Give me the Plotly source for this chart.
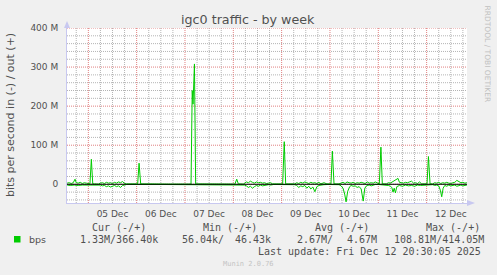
import pandas as pd
import plotly.graph_objects as go

# ---------------- data (hours since 2025-12-05 00:00, values in Mbit/s) ----------------
base_time = "2025-12-05 00:00"

out_hours = [-10.5, -9.5, -8.5, -7.5, -6.6, -6, -5, -4, -3, -2, -1, 0,
             0.8, 1.5, 2.2, 3, 5,
             6, 7, 8, 9, 10, 11, 12, 13, 14, 15, 16, 17, 18, 19,
             24.5, 25.2, 26, 30, 40, 51,
             51.6, 52.0, 52.7, 53.3, 60, 72.8, 73.7, 74.5, 77,
             77.5, 78.5, 79.5, 80.5, 81.5, 82.5, 83.5, 84.5, 85.5, 86.5, 87.5, 88.5, 89.5, 90.5, 91.5, 96.5,
             97.3, 98,
             102.5, 103.5, 104.5, 105.5, 106.5, 107.5, 108.5, 109.5, 110.5, 111.5, 112.5, 113.5, 114.5, 115.5,
             117, 118.5, 120.5, 121.2, 122,
             124.5, 125.5, 126.5, 127.5, 128.5, 129.5, 130.5, 131.5, 132.5, 133.5, 134.5, 135.5, 136.5, 137.5,
             138.5, 139.5, 140.5, 141.5, 142.5, 144.5, 145.3, 146,
             148, 149, 150, 151, 152, 153.8, 154.5, 155.5, 156.5, 157.5, 158.5, 159.5, 160.5, 161.5, 162.5,
             163.5, 164.5, 165.5, 168.2, 168.9, 169.7,
             171, 172, 173, 174, 175, 176, 177, 178, 179, 180, 181, 182, 183, 184, 185, 186, 187, 188]
out_values = [3, 4, 2, 4, 13, 4, 3, 5, 2, 4, 3, 1,
              1, 64, 1, 1, 0.5,
              3, 4, 2, 5, 3, 4, 2, 5, 3, 6, 4, 7, 2, 1,
              1, 54, 1, 0.5, 0.5, 0.5,
              240, 205, 308, 1, 0.5, 0.5, 13, 1, 0.5,
              3, 6, 4, 8, 5, 3, 6, 4, 5, 3, 4, 2, 3, 4, 1, 1,
              109, 1,
              1, 4, 2, 5, 3, 6, 4, 2, 5, 3, 4, 2, 5, 1,
              4, 1, 1, 85, 1,
              1, 3, 5, 2, 6, 4, 3, 5, 2, 4, 3, 5, 4, 2,
              6, 3, 4, 3, 6, 1, 95, 1,
              1, 4, 3, 6, 9, 15, 5, 4, 3, 5, 4, 6, 8, 3, 4,
              2, 6, 1, 1, 71, 1,
              1, 4, 3, 5, 2, 4, 3, 5, 3, 2, 4, 5, 10, 7, 4, 5, 3, 4]

in_hours = [-10.5, -9, -7, -5, -3, -1, 0, 3, 5,
            6, 7, 8, 9, 10, 11, 12, 13, 14, 15, 16, 17, 18, 19,
            30, 60, 77,
            77.5, 78.5, 79.5, 80.5, 81.5, 82.5, 83.5, 84.5, 85.5, 86.5, 87.5, 88.5, 89.5, 90.5, 92,
            102.5, 103.5, 104.5, 105.5, 106.5, 107.5, 108.5, 109.5, 110.5, 111.5, 112.5, 113.5, 114.5, 115.5,
            117, 119,
            124.5, 125.5, 126.5, 127.3, 128, 128.8, 129.8, 130.5, 131.5, 132.5, 133.5, 134.5, 135.5, 136.5,
            137.3, 138.3, 139.5, 140.5, 141.5, 142.5, 144,
            148, 149, 150, 150.7, 151.3, 151.9, 152.5, 153.2, 154.5, 156, 157.5, 159, 160.5, 162, 163.5, 165,
            171, 172, 173, 174, 174.8, 175.5, 176.2, 177, 178, 179, 180, 181, 182, 183, 184, 185, 186, 187, 188]
in_values = [-2, -3, -2, -3, -2, -2, -0.5, -0.3, -0.5,
             -2, -4, -3, -6, -4, -7, -5, -3, -6, -4, -8, -3, -2, -0.5,
             -0.3, -0.3, -0.5,
             -2, -4, -8, -5, -10, -6, -3, -5, -2, -4, -3, -2, -1, -2, -0.5,
             -1, -3, -8, -4, -6, -3, -10, -5, -12, -7, -19, -6, -3, -2,
             -1, -0.5,
             -1, -4, -10, -25, -45, -18, -6, -3, -5, -4, -8, -6, -12, -43,
             -10, -3, -2, -4, -2, -0.5, -0.5,
             -1, -3, -5, -8, -20, -10, -22, -6, -3, -5, -2, -4, -3, -5, -2, -3,
             -1, -3, -2, -4, -15, -32, -10, -3, -5, -2, -4, -3, -2, -5, -3, -2, -4, -3, -2]

y_tick_values = [0, 100, 200, 300, 400]
y_tick_labels = ["0", "100 M", "200 M", "300 M", "400 M"]

legend_header = ["Cur (-/+)", "Min (-/+)", "Avg (-/+)", "Max (-/+)"]
legend_row = ["1.33M/366.40k", "56.04k/", "46.43k", "2.67M/", "4.67M", "108.81M/414.05M"]
last_update = "Last update: Fri Dec 12 20:30:05 2025"

# ---------------- figure ----------------
W, H = 497, 275
L, R, T, B = 67, 30, 28, 72
PW, PH = W - L - R, H - T - B

def px(x):
    return (x - L) / PW

def py(y):
    return (H - B - y) / PH

t0 = pd.Timestamp(base_time)
out_t = [t0 + pd.Timedelta(hours=h) for h in out_hours]
in_t = [t0 + pd.Timedelta(hours=h) for h in in_hours]
x_start = t0 + pd.Timedelta(hours=-10.59)
x_end = t0 + pd.Timedelta(hours=188.05)
y_lo, y_hi = -47.9e6, 400e6

# grid positions derived from the axis ranges
x_major = [t0 + pd.Timedelta(hours=h) for h in range(0, 192, 24)]
x_minor = [t0 + pd.Timedelta(hours=h) for h in range(-6, 192, 6) if h % 24 != 0]
y_major = [v * 1e6 for v in y_tick_values]
y_minor = [v * 1e6 for v in range(-40, 400, 20) if v % 100 != 0]

MAJ = "#e08080"
MIN = "#b4b4b4"
AX = "#c8c8f0"
TXT = "#505050"
GREEN = "#00CC00"

def vlines(xs):
    xx, yy = [], []
    for x in xs:
        xx += [x, x, None]
        yy += [y_lo, y_hi, None]
    return xx, yy

def hlines(ys):
    xx, yy = [], []
    for y in ys:
        xx += [x_start, x_end, None]
        yy += [y, y, None]
    return xx, yy

fig = go.Figure()
for (xx, yy), col in [(vlines(x_minor), MIN), (hlines(y_minor), MIN),
                      (vlines(x_major), MAJ), (hlines(y_major), MAJ)]:
    fig.add_trace(go.Scatter(x=xx, y=yy, mode="lines", line=dict(color=col, width=1, dash="1px,1px"),
                             hoverinfo="skip", showlegend=False, connectgaps=False))

fig.add_trace(go.Scatter(x=in_t, y=[v * 1e6 for v in in_values], mode="lines",
                         line=dict(color=GREEN, width=1), hoverinfo="skip", showlegend=False))
fig.add_trace(go.Scatter(x=out_t, y=[v * 1e6 for v in out_values], mode="lines",
                         line=dict(color=GREEN, width=1), hoverinfo="skip", showlegend=False))

fig.update_layout(
    width=W, height=H,
    margin=dict(l=L, r=R, t=T, b=B, pad=0),
    paper_bgcolor="#F0F0F0", plot_bgcolor="white",
    showlegend=False,
    xaxis=dict(
        type="date", range=[x_start, x_end],
        tick0=t0, dtick=86400000, ticklabelmode="period", tickformat="%d %b",
        showgrid=False,
        ticks="", showline=True, linecolor=AX, zeroline=False, ticklabelstandoff=2,
        tickfont=dict(family="DejaVu Sans", size=9, color=TXT),
    ),
    yaxis=dict(
        range=[y_lo, y_hi],
        tickmode="array", tickvals=y_major, ticktext=y_tick_labels,
        showgrid=False,
        ticks="", showline=True, linecolor=AX, zeroline=False, ticklabelstandoff=6,
        tickfont=dict(family="DejaVu Sans", size=9, color=TXT),
    ),
)

# zero rule drawn above the data
fig.add_shape(type="line", xref="paper", yref="y", x0=0, x1=1, y0=0, y1=0,
              line=dict(color="#000000", width=1), layer="above")

# axis arrows
fig.add_shape(type="path", xref="paper", yref="paper", layer="above",
              path=f"M {px(64)} {py(28)} L {px(70)} {py(28)} L {px(67)} {py(21)} Z",
              fillcolor=AX, line=dict(width=0))
fig.add_shape(type="path", xref="paper", yref="paper", layer="above",
              path=f"M {px(467)} {py(200)} L {px(467)} {py(206)} L {px(475)} {py(203)} Z",
              fillcolor=AX, line=dict(width=0))

ann = []
def text(x, y, s, size=10, family="DejaVu Sans", color=TXT, xanchor="left", angle=0):
    ann.append(dict(x=px(x), y=py(y), xref="paper", yref="paper", text=s, showarrow=False,
                    xanchor=xanchor, yanchor="middle", textangle=angle,
                    font=dict(family=family, size=size, color=color)))

text(247.8, 20, "igc0 traffic - by week", size=12.7, xanchor="center")
text(10, 115, "bits per second in (-) / out (+)", size=11, xanchor="center", angle=-90)
text(487.5, 54, "RRDTOOL / TOBI OETIKER", size=7.5, color="#c0c0c0", xanchor="center", angle=90)

MONO = "DejaVu Sans Mono"
for s, x in zip(legend_header, [90, 201, 312.7, 423.7]):
    text(x, 227.7, s.replace(" ", "&nbsp;"), size=10, family=MONO)
for s, x in zip(legend_row, [78.3, 180.3, 233.3, 295, 345, 391.7]):
    text(x, 239.3, s, size=10, family=MONO)
text(483.3, 251, last_update.replace(" ", "&nbsp;"), size=10, family=MONO, xanchor="right")
text(248, 264.3, "Munin 2.0.76", size=7, family=MONO, color="#c4c4c4", xanchor="center")
text(27, 239.3, "bps", size=9.5)

fig.add_shape(type="rect", xref="paper", yref="paper", layer="above",
              x0=px(14), x1=px(20.5), y0=py(236), y1=py(242.5),
              fillcolor=GREEN, line=dict(width=0))

fig.update_layout(annotations=ann)
fig.write_html("out.html")
